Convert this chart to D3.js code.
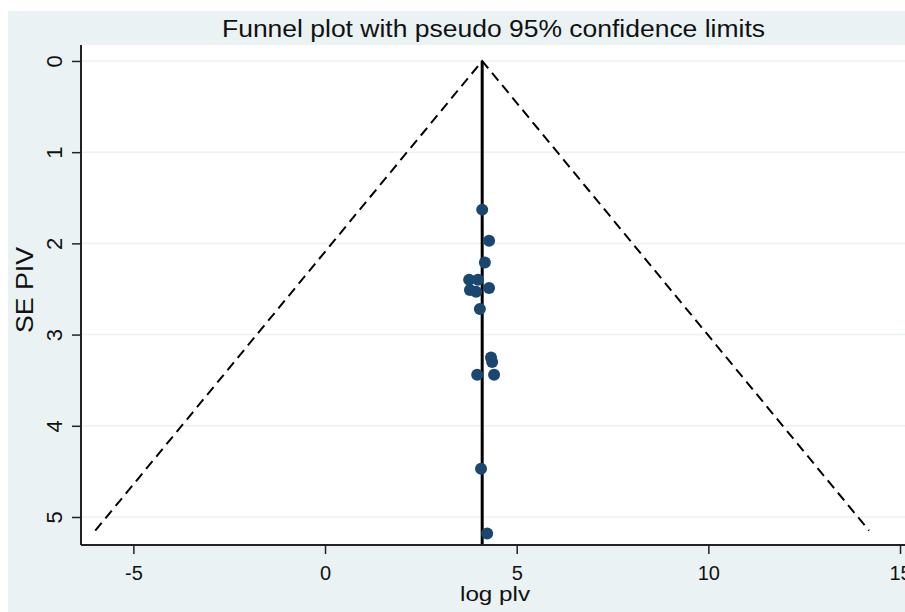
<!DOCTYPE html>
<html>
<head>
<meta charset="utf-8">
<script src="https://cdn.jsdelivr.net/npm/d3@7"></script>
<style>
  body { margin: 0; background: #fff; }
  svg text { font-family: Arial, "Liberation Sans", Helvetica, sans-serif; fill: #111; }
</style>
</head>
<body>
<svg id="chart" width="905" height="612"></svg>
<script>
// study estimates
const logPIV = [4.10, 4.28, 4.17, 3.76, 3.99, 3.78, 3.94, 4.28, 4.04, 4.33, 4.36, 3.97, 4.41, 4.07, 4.23];
const sePIV  = [1.63, 1.97, 2.21, 2.40, 2.40, 2.51, 2.53, 2.49, 2.72, 3.25, 3.30, 3.44, 3.44, 4.47, 5.18];
const pooled = 4.10;
const seMax = 5.15;
const xTicks = [-5, 0, 5, 10, 15];
const yTicks = [0, 1, 2, 3, 4, 5];

const svg = d3.select("#chart");
const W = 905, H = 612;
const plot = {left: 81, top: 45, right: 905, bottom: 545};

// outer graph region
svg.append("rect").attr("x", 8).attr("y", 11).attr("width", W - 8).attr("height", H - 11)
  .attr("fill", "#eaf2f3");
svg.append("rect").attr("x", plot.left).attr("y", plot.top)
  .attr("width", plot.right - plot.left).attr("height", plot.bottom - plot.top)
  .attr("fill", "#fff");

const x = d3.scaleLinear().domain([-6.366, 15.13]).range([plot.left, plot.right]);
const y = d3.scaleLinear().domain([-0.175, 5.307]).range([plot.top, plot.bottom]);

// gridlines
svg.append("g").selectAll("line").data(yTicks).join("line")
  .attr("x1", plot.left).attr("x2", plot.right)
  .attr("y1", d => y(d)).attr("y2", d => y(d))
  .attr("stroke", "#eaf2f3").attr("stroke-width", 1.5);

// pseudo 95% limits
const funnel = [[pooled - 1.96 * seMax, seMax], [pooled, 0], [pooled + 1.96 * seMax, seMax]];
svg.append("path")
  .attr("d", d3.line().x(d => x(d[0])).y(d => y(d[1]))(funnel))
  .attr("fill", "none").attr("stroke", "#000").attr("stroke-width", 2)
  .attr("stroke-dasharray", "10,6");

// pooled estimate
svg.append("line")
  .attr("x1", x(pooled)).attr("x2", x(pooled))
  .attr("y1", y(0)).attr("y2", plot.bottom)
  .attr("stroke", "#000").attr("stroke-width", 3);

// points
svg.append("g").selectAll("circle").data(logPIV).join("circle")
  .attr("cx", d => x(d)).attr("cy", (d, i) => y(sePIV[i]))
  .attr("r", 6).attr("fill", "#1a476f");

// axes
const xAxis = svg.append("g").attr("transform", `translate(0,${plot.bottom})`)
  .call(d3.axisBottom(x).tickValues(xTicks).tickFormat(d => String(d))
    .tickSize(9).tickPadding(12).tickSizeOuter(0));
const yAxis = svg.append("g").attr("transform", `translate(${plot.left},0)`)
  .call(d3.axisLeft(y).tickValues(yTicks).tickFormat(d => String(d))
    .tickSize(9).tickSizeOuter(0));
[xAxis, yAxis].forEach(a => {
  a.select(".domain").attr("stroke", "#222").attr("stroke-width", 2);
  a.selectAll(".tick line").attr("stroke", "#222").attr("stroke-width", 1.5);
  a.selectAll("text").attr("font-size", 20).attr("fill", "#111")
    .attr("font-family", "Arial, 'Liberation Sans', sans-serif");
});
xAxis.select(".domain").attr("d", `M${plot.left},0H${plot.right}`);
yAxis.select(".domain").attr("d", `M0,${plot.top}V${plot.bottom}`);
yAxis.selectAll(".tick text")
  .attr("x", 0).attr("dy", 0)
  .attr("font-size", 22)
  .attr("text-anchor", "middle")
  .attr("transform", "translate(-19.5,0) rotate(-90)");

// titles
svg.append("text").attr("x", 493.5).attr("y", 37).attr("text-anchor", "middle")
  .attr("font-size", 23).attr("textLength", 543).attr("lengthAdjust", "spacingAndGlyphs")
  .text("Funnel plot with pseudo 95% confidence limits");
svg.append("text").attr("x", 495).attr("y", 601).attr("text-anchor", "middle")
  .attr("font-size", 21).attr("textLength", 70).attr("lengthAdjust", "spacingAndGlyphs")
  .text("log plv");
svg.append("text").attr("transform", "translate(33,290) rotate(-90)")
  .attr("text-anchor", "middle").attr("font-size", 23)
  .attr("textLength", 86).attr("lengthAdjust", "spacingAndGlyphs")
  .text("SE PIV");
</script>
</body>
</html>
